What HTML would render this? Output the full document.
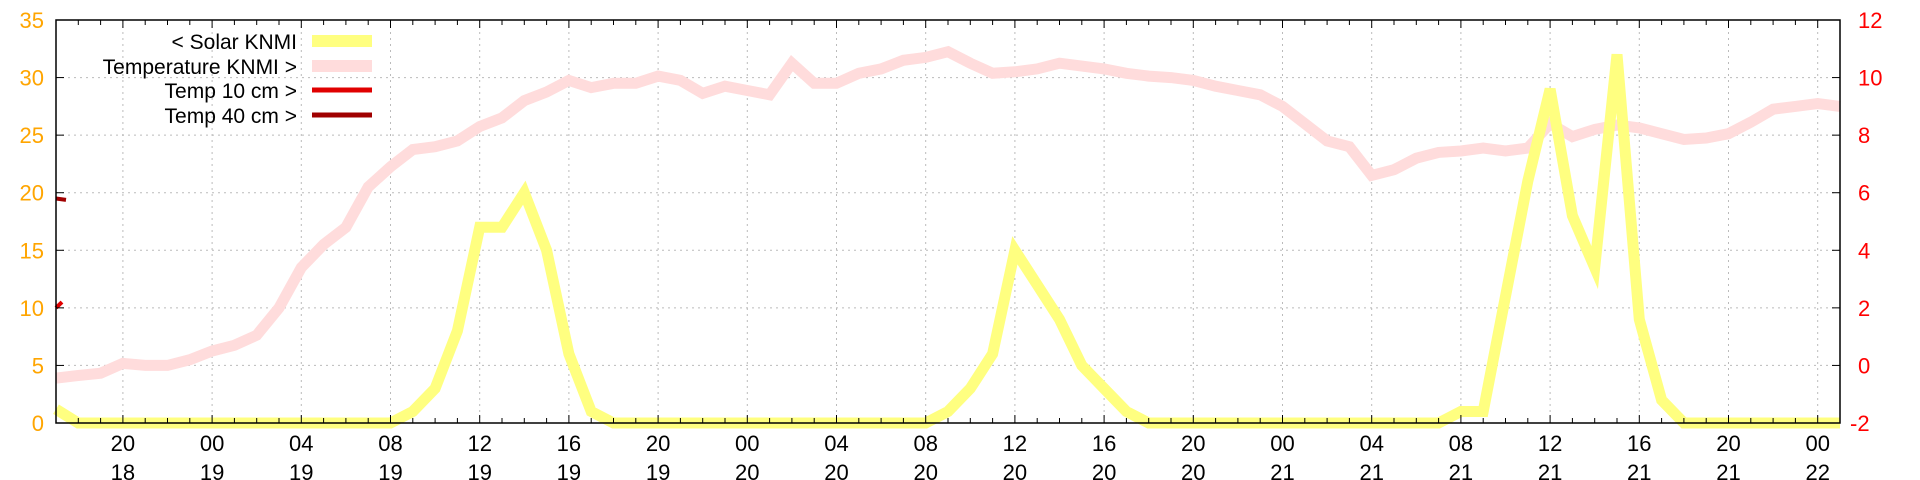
<!DOCTYPE html>
<html><head><meta charset="utf-8"><style>
html,body{margin:0;padding:0;background:#fff;}
svg{display:block;font-family:"Liberation Sans","DejaVu Sans",sans-serif;}
</style></head><body>
<svg id="chart" width="1920" height="480" viewBox="0 0 1920 480">
<g id="grid"></g>
<g id="series"></g>
<g id="axes"></g>
<g id="legend"></g>
</svg>
<script>
// data: hourly from day 18 17:00 to day 22 01:00
const startHour = 17; // 18th 17:00
const solarValues = [1.2,0,0,0,0,0,0,
 0,0,0,0,0,0,0,0,0,1,3,8,17,17,20,15,6,1,0,0,0,0,0,0,
 0,0,0,0,0,0,0,0,0,1,3,6,15,12,9,5,3,1,0,0,0,0,0,0,
 0,0,0,0,0,0,0,0,1,1,11,21,29,18,13.5,32,9,2,0,0,0,0,0,0,
 0,0];
const tempValues = [-0.44,-0.35,-0.27,0.07,0.0,0.0,0.2,
 0.5,0.7,1.05,2.0,3.4,4.2,4.8,6.2,6.9,7.5,7.6,7.8,8.3,8.6,9.2,9.5,9.9,9.65,9.8,9.8,10.05,9.9,9.45,9.7,
 9.55,9.4,10.5,9.8,9.8,10.15,10.3,10.6,10.7,10.9,10.5,10.15,10.2,10.3,10.5,10.4,10.3,10.15,10.05,10.0,9.9,9.7,9.55,9.4,
 9.0,8.4,7.8,7.6,6.6,6.8,7.2,7.4,7.45,7.55,7.45,7.55,8.4,7.95,8.2,8.35,8.25,8.05,7.85,7.9,8.05,8.45,8.9,9.0,
 9.1,9.0];
const temp10Values = [2.0,2.2];
const temp40Values = [5.8,5.75];
const leftTicks = [0,5,10,15,20,25,30,35];
const rightTicks = [-2,0,2,4,6,8,10,12];
const hourLabels = ["20","00","04","08","12","16","20","00","04","08","12","16","20","00","04","08","12","16","20","00"];
const dayLabels = ["18","19","19","19","19","19","19","20","20","20","20","20","20","21","21","21","21","21","21","22"];

const L=56,R=1840,T=20,B=423,NH=80;
const x=h=>L+(R-L)*h/NH;
const yL=v=>B-(B-T)*v/35;
const yR=v=>B-(B-T)*(v+2)/14;
const NS="http://www.w3.org/2000/svg";
function mk(tag,attrs,parent){const e=document.createElementNS(NS,tag);for(const k in attrs)e.setAttribute(k,attrs[k]);parent.appendChild(e);return e;}
const grid=document.getElementById('grid'),series=document.getElementById('series'),axes=document.getElementById('axes'),legend=document.getElementById('legend');

// horizontal grid + y ticks
leftTicks.forEach((v,i)=>{
  const y=yL(v);
  if(v>0&&v<35){const g=mk('line',{x1:L,x2:R,y1:y,y2:y,stroke:'#bbb','stroke-width':1,'stroke-dasharray':'2,4'},grid);
  
  }
  mk('line',{x1:L,x2:L+8,y1:y,y2:y,stroke:'#000','stroke-width':1},axes);
  const t=mk('text',{x:44,y:y+8,'text-anchor':'end','font-size':22,fill:'#ffa500'},axes);t.textContent=v;
  
  
});
rightTicks.forEach(v=>{
  const y=yR(v);
  mk('line',{x1:R-8,x2:R,y1:y,y2:y,stroke:'#000','stroke-width':1},axes);
  const t=mk('text',{x:1858,y:y+8,'font-size':22,fill:'#ff0000'},axes);t.textContent=v;
  if(v<0)t.setAttribute('x',1850);
  
  
});
// x ticks
for(let h=0;h<=NH;h++){
  const hr=(startHour+h)%24, xx=x(h), major=hr%4===0;
  const len=major?8:5;
  mk('line',{x1:xx,x2:xx,y1:B,y2:B-len,stroke:'#000','stroke-width':1},axes);
  mk('line',{x1:xx,x2:xx,y1:T,y2:T+len,stroke:'#000','stroke-width':1},axes);
}
let li=0;
for(let h=0;h<=NH;h++){
  const hr=(startHour+h)%24; if(hr%4!==0)continue;
  const xx=x(h);
  const g=mk('line',{x1:xx,x2:xx,y1:T,y2:B,stroke:'#bbb','stroke-width':1,'stroke-dasharray':'2,4'},grid);
  
  
  const t1=mk('text',{x:xx,y:451,'text-anchor':'middle','font-size':22,fill:'#000'},axes);t1.textContent=hourLabels[li];
  
  
  const t2=mk('text',{x:xx,y:480,'text-anchor':'middle','font-size':22,fill:'#000'},axes);t2.textContent=dayLabels[li];
  
  
  li++;
}
// series
function line(vals,yf,color,w,name,off){
  const pts=vals.map((v,i)=>x(i+(off||0)).toFixed(1)+','+yf(v).toFixed(1)).join(' ');
  const p=mk('polyline',{points:pts,fill:'none',stroke:color,'stroke-width':w,'stroke-linejoin':'miter'},series);
  
  
}
line(tempValues,yR,'#ffdcdc',11,'temperature-line');
line(solarValues,yL,'#ffff80',11,'solar-line');
line(temp10Values,yR,'#e00000',4,'temp-10cm-line',0);
line(temp40Values,yR,'#a00000',4,'temp-40cm-line',0);
// fix tiny segments to be short
series.lastChild.setAttribute('points',x(0)+','+yR(temp40Values[0])+' '+(x(0)+10)+','+yR(temp40Values[1]));
series.children[2].setAttribute('points',x(0)+','+yR(temp10Values[0])+' '+(x(0)+6)+','+yR(temp10Values[1]));
// border
const bd=mk('rect',{x:L,y:T,width:R-L,height:B-T,fill:'none',stroke:'#000','stroke-width':1.5},axes);


// legend
const legNames=["< Solar KNMI","Temperature KNMI >","Temp 10 cm >","Temp 40 cm >"];
const legColors=["#ffff80","#ffdcdc","#e00000","#a00000"];
const legW=[12,12,5,5];
const legY=[41,66,90,115];
legNames.forEach((n,i)=>{
  const t=mk('text',{x:297,y:legY[i]+8,'text-anchor':'end','font-size':21,fill:'#000'},legend);t.textContent=n;
  
  
  const s=mk('line',{x1:312,x2:372,y1:legY[i],y2:legY[i],stroke:legColors[i],'stroke-width':legW[i]},legend);
  
  
});
</script>
</body></html>
